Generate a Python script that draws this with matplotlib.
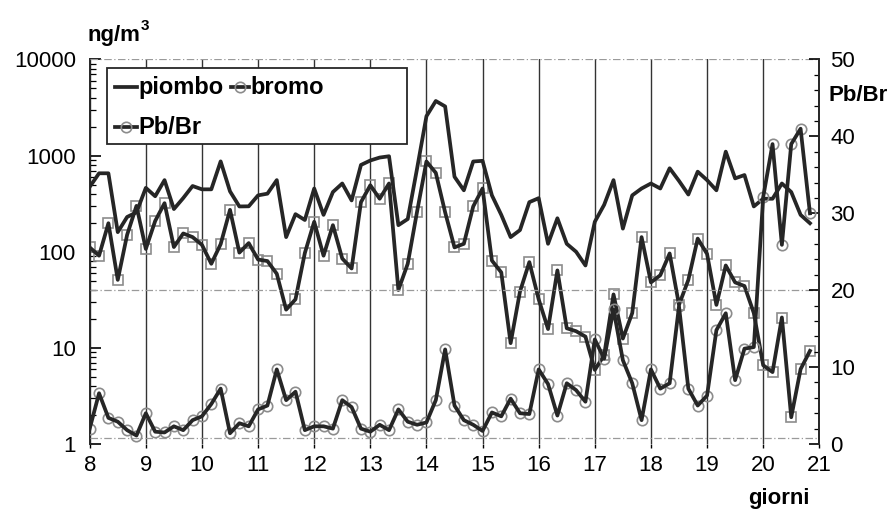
import numpy as np
import matplotlib
matplotlib.use('Agg')
import matplotlib.pyplot as plt
from matplotlib.lines import Line2D
from matplotlib.patches import Rectangle
from matplotlib.ticker import MultipleLocator, LogLocator, NullFormatter

plt.rcParams['font.family'] = ['Liberation Sans', 'DejaVu Sans']

# campioni ogni 4 ore (6 al giorno) dal giorno 8
giorni = 8 + np.arange(78) / 6.0

# ng/m3, asse sinistro (log)
piombo = [473, 655, 655, 160, 230, 257, 462, 378, 556, 278,
          362, 483, 446, 446, 871, 425, 296, 297, 386, 402,
          556, 142, 246, 214, 455, 242, 418, 513, 342, 800,
          890, 955, 985, 189, 219, 735, 2570, 3700, 3250, 603,
          436, 869, 883, 386, 242, 142, 168, 328, 361, 121,
          223, 121, 100, 72, 205, 308, 556, 174, 386, 455,
          513, 455, 739, 546, 394, 681, 556, 436, 1100, 580,
          628, 296, 356, 356, 513, 418, 242, 198]

bromo = [111, 91, 198, 51, 150, 300, 107, 209, 320, 112,
         155, 142, 118, 75, 120, 273, 98, 123, 83, 80,
         59, 25, 32, 97, 205, 91, 189, 85, 67, 328,
         492, 356, 513, 40, 75, 262, 869, 662, 257, 111,
         121, 296, 455, 81, 61, 11.2, 38.5, 78, 32, 15.7,
         64, 16, 14.9, 13.1, 5.9, 8.4, 36, 12.5, 23, 142,
         48, 57, 96, 28, 51, 137, 95, 28, 72, 48,
         44, 23, 6.6, 5.6, 20.7, 1.9, 6.0, 9.3]

# rapporto Pb/Br, asse destro
pb_br = [2.0, 6.6, 3.4, 2.9, 1.8, 1.1, 4.0, 1.6, 1.5, 2.3,
         1.8, 3.1, 3.6, 5.2, 7.2, 1.4, 2.7, 2.3, 4.5, 5.0,
         9.7, 5.7, 6.8, 1.8, 2.3, 2.3, 2.0, 5.7, 4.8, 2.0,
         1.6, 2.5, 1.8, 4.5, 2.9, 2.5, 2.8, 5.7, 12.3, 5.0,
         3.1, 2.5, 1.7, 4.1, 3.6, 5.9, 4.0, 3.9, 9.7, 7.8,
         3.7, 7.9, 7.0, 5.5, 13.6, 11.1, 17.5, 10.9, 7.9, 3.1,
         9.7, 7.2, 7.9, 17.9, 7.2, 5.0, 6.3, 14.8, 17.0, 8.3,
         12.4, 12.6, 32.1, 39.0, 25.9, 39.0, 41.0, 30.0]

left_ticks = [1, 10, 100, 1000, 10000]
right_ticks = [0, 10, 20, 30, 40, 50]
x_ticks = list(range(8, 22))

W, H = 895, 511
scuro = '#262626'
grigio = '#8c8c8c'
LW = 2.7


def fx(px):
    return px / W


def fy(py):
    return 1 - py / H


fig = plt.figure(figsize=(W / 100, H / 100), dpi=100)
ax = fig.add_axes([fx(89.7), fy(444), (819.3 - 89.7) / W, (444 - 59.5) / H])
ax2 = ax.twinx()

# markers under the lines
ax.plot(giorni, bromo, ls='none', marker='s', ms=6.5, mfc='none', mec=grigio, mew=1.2, zorder=2)
ax.plot(giorni, piombo, color=scuro, lw=LW, zorder=3)
ax.plot(giorni, bromo, color=scuro, lw=LW, zorder=3)
ax2.plot(giorni, pb_br, ls='none', marker='o', ms=7.5, mfc='none', mec=grigio, mew=1.2, zorder=2)
ax2.plot(giorni, pb_br, color=scuro, lw=LW, zorder=3)

ax.set_yscale('log')
ax.set_ylim(1, 10000)
ax.set_xlim(8, 21)
ax2.set_ylim(0, 50)

ax.set_yticks(left_ticks, labels=[str(t) for t in left_ticks])
ax.yaxis.set_minor_locator(LogLocator(base=10, subs=np.arange(2, 10)))
ax.yaxis.set_minor_formatter(NullFormatter())
ax.set_xticks(x_ticks, labels=[str(t) for t in x_ticks])
ax2.set_yticks(right_ticks, labels=[str(t) for t in right_ticks])
ax2.yaxis.set_minor_locator(MultipleLocator(2))

ax.tick_params(axis='y', which='major', direction='in', length=8, width=1.2, pad=10, labelsize=16)
ax.tick_params(axis='y', which='minor', direction='in', length=4, width=0.9)
ax.tick_params(axis='x', direction='out', length=3, width=1, pad=5, labelsize=16)
ax2.tick_params(axis='y', which='major', direction='in', length=7, width=1.2, pad=8, labelsize=16)
ax2.tick_params(axis='y', which='minor', direction='in', length=3.5, width=0.9)

ax.xaxis.grid(True, color='#333333', lw=1.0)
ax.set_axisbelow(True)

for a in (ax, ax2):
    a.spines['bottom'].set_visible(False)
    a.spines['top'].set_visible(False)
ax.spines['right'].set_visible(False)
ax.spines['left'].set_linewidth(1.4)
ax.spines['left'].set_color(scuro)
ax2.spines['left'].set_visible(False)
ax2.spines['right'].set_linewidth(1.4)
ax2.spines['right'].set_color(scuro)

# dashed horizontal lines (top edge, 20 and bottom edge)
for yv in (50, 20, 0.8):
    ax2.axhline(yv, color='#9a9a9a', lw=0.9, ls=(0, (6, 2, 1, 2)), zorder=1)

# axis titles
fig.text(fx(88), fy(41), 'ng/m', fontsize=16, fontweight='bold', ha='left', va='baseline')
fig.text(fx(141), fy(30), '3', fontsize=11, fontweight='bold', ha='left', va='baseline')
fig.text(fx(829), fy(101), 'Pb/Br', fontsize=16, fontweight='bold', ha='left', va='baseline')
fig.text(fx(810), fy(504), 'giorni', fontsize=16, fontweight='bold', ha='right', va='baseline')

# legend drawn by hand
fig.add_artist(Rectangle((fx(107), fy(144)), 300 / W, 76 / H, transform=fig.transFigure,
                         facecolor='white', edgecolor=scuro, lw=1.3, zorder=10))
fig.add_artist(Line2D([fx(115), fx(137)], [fy(87), fy(87)], transform=fig.transFigure,
                      color=scuro, lw=LW, zorder=11))
fig.text(fx(138), fy(94), 'piombo', fontsize=17, fontweight='bold', ha='left', va='baseline', zorder=11)
fig.add_artist(Line2D([fx(231), fx(249)], [fy(87), fy(87)], transform=fig.transFigure,
                      color=scuro, lw=LW, zorder=11))
fig.add_artist(Line2D([fx(240)], [fy(87)], transform=fig.transFigure, ls='none',
                      marker='o', ms=7.5, mfc='none', mec=grigio, mew=1.2, zorder=11))
fig.text(fx(250), fy(94), 'bromo', fontsize=17, fontweight='bold', ha='left', va='baseline', zorder=11)
fig.add_artist(Line2D([fx(115), fx(137)], [fy(127), fy(127)], transform=fig.transFigure,
                      color=scuro, lw=LW, zorder=11))
fig.add_artist(Line2D([fx(126)], [fy(127)], transform=fig.transFigure, ls='none',
                      marker='o', ms=7.5, mfc='none', mec=grigio, mew=1.2, zorder=11))
fig.text(fx(138), fy(134), 'Pb/Br', fontsize=17, fontweight='bold', ha='left', va='baseline', zorder=11)

fig.savefig('out.png', dpi=100)
